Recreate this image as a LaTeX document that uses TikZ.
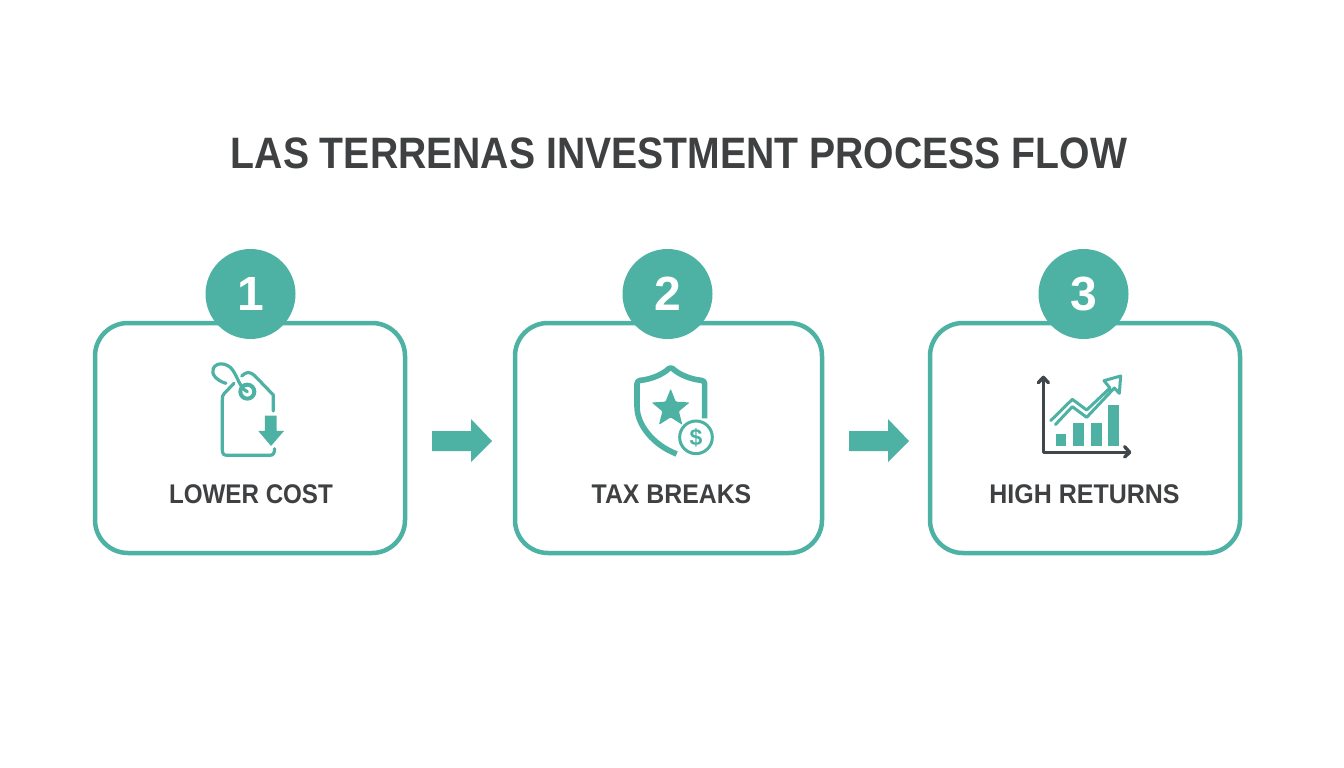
\documentclass[tikz,border=0pt]{standalone}
\usepackage{fontspec}
\setmainfont{Liberation Sans}
\usetikzlibrary{shapes.arrows,shapes.geometric}
\definecolor{teal1}{HTML}{4DB2A4}
\definecolor{ink}{HTML}{3E4042}
\definecolor{axisink}{HTML}{3F474C}
\tikzset{
  card/.style={draw=teal1,line width=4.5pt,rounded corners=33pt,fill=white,inner sep=0pt},
  badge/.style={circle,fill=teal1,minimum size=90pt,inner sep=0pt,text=white,font=\bfseries\fontsize{48}{48}\selectfont},
  cardlabel/.style={text=ink,font=\bfseries\fontsize{27}{30}\selectfont,inner sep=0pt},
  flowarrow/.style={fill=teal1,draw=none},
  iconline/.style={draw=teal1,line width=1.5pt,line cap=round,line join=round,fill=none},
}
\begin{document}
\begin{tikzpicture}[x=1pt,y=-1pt]
\useasboundingbox (0,0) rectangle (1344,768);
\fill[white] (0,0) rectangle (1344,768);
\node[text=ink,font=\bfseries\fontsize{44}{50}\selectfont,inner sep=0pt,xscale=0.89] (title) at (679,153) {LAS TERRENAS INVESTMENT PROCESS FLOW};

% cards
\draw[card] (95,323) rectangle (405,553);
\draw[card] (515,323) rectangle (822,553);
\draw[card] (930,323) rectangle (1240,553);
\node[badge] (b1) at (250.5,294) {1};
\node[badge] (b2) at (667.5,294) {2};
\node[badge] (b3) at (1083.5,294) {3};
\node[cardlabel,xscale=0.895] (l1) at (251,494) {LOWER COST};
\node[cardlabel,xscale=0.92] (l2) at (671.5,494) {TAX BREAKS};
\node[cardlabel,xscale=0.925] (l3) at (1084.5,494) {HIGH RETURNS};

% arrows between cards
\fill[flowarrow] (432,431) -- (471,431) -- (471,419) -- (492,441) -- (471,462) -- (471,451) -- (432,451) -- cycle;
\fill[flowarrow] (849,431) -- (888,431) -- (888,419) -- (909,441) -- (888,462) -- (888,451) -- (849,451) -- cycle;

% price tag icon
\begin{scope}[shift={(190,350)},x=0.3333pt,y=-0.3333pt]
  \draw[iconline,line width=3.2pt] (250,183) -- (250,135) -- (195,78) .. controls (180,64) and (170,64) .. (155,78);
  \draw[iconline,line width=3.2pt] (132,100) -- (103,130) .. controls (97,137) and (97,140) .. (97,150) -- (97,300) .. controls (97,312) and (102,316) .. (112,316) -- (240,316) .. controls (250,316) and (254,308) .. (254,296);
  \draw[iconline,line width=4pt] (172,125) circle (21);
  \draw[iconline,line width=3.2pt] (108,100) .. controls (80,92) and (62,72) .. (70,55) .. controls (80,35) and (112,38) .. (128,60) .. controls (145,85) and (150,115) .. (172,125);
  \fill[teal1] (225,197) -- (260,197) -- (260,243) -- (282,243) -- (243,288) -- (205,243) -- (225,243) -- cycle;
\end{scope}

% shield icon
\begin{scope}[shift={(610,350)},x=0.3333pt,y=-0.3333pt]
  \draw[iconline,line width=5.6pt,line cap=butt,rounded corners=3pt] (284,205) -- (284,92) .. controls (240,88) and (205,72) .. (182,50) .. controls (160,72) and (125,88) .. (81,92) -- (81,160) .. controls (81,225) and (130,285) .. (200,312);
  \node[star,star points=5,star point ratio=2.3,fill=teal1,inner sep=0pt,minimum size=40pt,rounded corners=1pt] (star) at (182,176) {};
  \draw[draw=teal1,line width=3pt,fill=white] (258,262) circle (49);
  \node[text=teal1,font=\bfseries\fontsize{23}{23}\selectfont,inner sep=0pt] (coin) at (258,262) {\$};
\end{scope}

% chart icon
\begin{scope}[shift={(1020,360)},x=0.3333pt,y=-0.3333pt]
  \fill[teal1] (107,222) rectangle (139,258);
  \fill[teal1] (158,190) rectangle (192,258);
  \fill[teal1] (212,188) rectangle (246,258);
  \fill[teal1] (265,136) rectangle (298,258);
  \draw[iconline,draw=axisink,line width=3.4pt,line cap=butt] (70,55) -- (70,278) -- (322,278);
  \draw[iconline,draw=axisink,line width=3.4pt] (55,68) -- (70,52) -- (85,68);
  \draw[iconline,draw=axisink,line width=3.4pt] (314,260) -- (329,277) -- (314,291);
  \draw[iconline,line width=3pt] (92,182) -- (157,118) -- (200,150) -- (270,84) -- (252,62) -- (302,48) -- (298,100) -- (283,84) -- (200,172) -- (157,140) -- (106,194);
\end{scope}
\end{tikzpicture}
\end{document}
